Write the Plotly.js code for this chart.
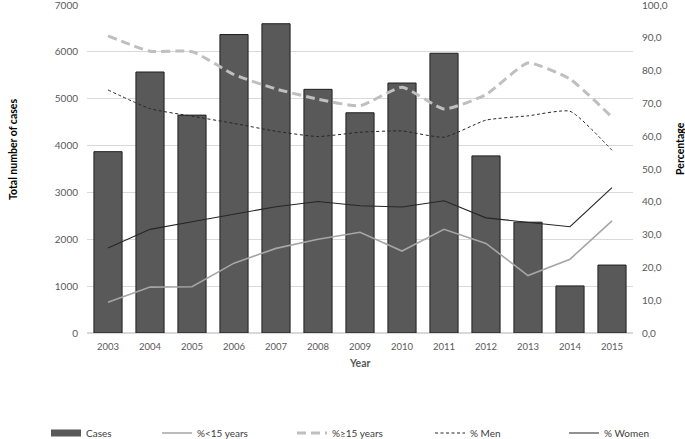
<!DOCTYPE html>
<html>
<head>
<meta charset="utf-8">
<script src="https://cdn.plot.ly/plotly-3.0.1.min.js"></script>
<style>html,body{margin:0;padding:0;background:#fff;}#chart{width:685px;height:439px;}</style>
</head>
<body>
<div id="chart"></div>
<script>
const years = ['2003','2004','2005','2006','2007','2008','2009','2010','2011','2012','2013','2014','2015'];
const cases = [3870, 5570, 4650, 6370, 6600, 5200, 4700, 5335, 5970, 3780, 2365, 1005, 1450];
const pctUnder15 = [9.4, 14.0, 14.1, 21.3, 25.8, 28.6, 30.7, 25.0, 31.6, 27.3, 17.5, 22.5, 34.2];
const pctOver15 = [90.6, 85.9, 85.8, 78.8, 74.4, 71.3, 69.3, 74.9, 68.3, 72.7, 82.3, 77.4, 65.8];
const pctMen = [74.1, 68.4, 66.1, 63.9, 61.5, 59.9, 61.2, 61.6, 59.7, 64.9, 66.2, 67.6, 55.7];
const pctWomen = [25.9, 31.6, 33.9, 36.1, 38.5, 40.1, 38.8, 38.4, 40.3, 35.1, 33.8, 32.4, 44.3];
const legendNames = ['Cases', '%<15 years', '%≥15 years', '% Men', '% Women'];

const FONT = 'Lato, "Open Sans", sans-serif';

const traces = [
  {type:'bar', x:years, y:cases, name:legendNames[0], showlegend:false,
   marker:{color:'#595959', line:{color:'#1f1f1f', width:1}}, yaxis:'y', hoverinfo:'skip'},
  {type:'scatter', mode:'lines', x:[null], y:[null], name:legendNames[0], legend:'legend',
   line:{color:'#595959', width:7}, showlegend:true},
  {type:'scatter', mode:'lines', x:years, y:pctUnder15, name:legendNames[1], yaxis:'y2', legend:'legend2',
   line:{color:'#a6a6a6', width:1.6}},
  {type:'scatter', mode:'lines', x:years, y:pctOver15, name:legendNames[2], yaxis:'y2', legend:'legend3',
   line:{color:'#bfbfbf', width:3, dash:'9px,5px', shape:'spline', smoothing:0.5}},
  {type:'scatter', mode:'lines', x:years, y:pctMen, name:legendNames[3], yaxis:'y2', legend:'legend4',
   line:{color:'#262626', width:1, dash:'3px,2.5px', shape:'spline', smoothing:0.5}},
  {type:'scatter', mode:'lines', x:years, y:pctWomen, name:legendNames[4], yaxis:'y2', legend:'legend5',
   line:{color:'#262626', width:1.1}}
];

function leg(px){
  return {orientation:'h', xref:'container', yref:'container', x:px/685, xanchor:'left',
          y:1 - 433/439, yanchor:'middle',
          bgcolor:'rgba(0,0,0,0)', font:{family:FONT, size:10, color:'#404040'},
          itemwidth:30, tracegroupgap:0};
}

const layout = {
  width:685, height:439,
  margin:{l:87, r:52, t:5, b:106, pad:0},
  paper_bgcolor:'#ffffff', plot_bgcolor:'#ffffff',
  font:{family:FONT, size:10, color:'#595959'},
  separators:',.',
  bargap:0.33,
  showlegend:true,
  xaxis:{type:'category', showgrid:false, zeroline:false, showline:false, ticks:'',
         ticklabelstandoff:6, tickfont:{family:FONT, size:9.5, color:'#595959'}, fixedrange:true},
  yaxis:{range:[0,7000], dtick:1000, tickformat:'d', showgrid:true, gridcolor:'#d9d9d9', gridwidth:1.2,
         zeroline:true, zerolinecolor:'#d9d9d9', zerolinewidth:1.2, showline:false, ticks:'',
         ticklabeloverflow:'allow',
         ticklabelstandoff:8, tickfont:{family:FONT, size:10, color:'#595959'}},
  yaxis2:{range:[0,100], dtick:10, tickformat:'.1f', overlaying:'y', side:'right', showgrid:false,
          zeroline:false, showline:false, ticks:'', ticklabelstandoff:8, ticklabeloverflow:'allow',
          tickfont:{family:FONT, size:10, color:'#595959'}},
  legend:leg(46), legend2:leg(157), legend3:leg(292), legend4:leg(430), legend5:leg(564),
  annotations:[
    {text:'<b>Total number of cases</b>', xref:'paper', yref:'paper', x:-0.1355, y:0.558,
     xanchor:'center', yanchor:'middle',
     textangle:-90, showarrow:false, font:{family:FONT, size:10.5, color:'#000000'}},
    {text:'<b>Percentage</b>', xref:'paper', yref:'paper', x:1.086, y:0.564,
     xanchor:'center', yanchor:'middle',
     textangle:-90, showarrow:false, font:{family:FONT, size:10.5, color:'#000000'}},
    {text:'<b>Year</b>', xref:'paper', yref:'paper', x:0.5, y:-0.0915,
     xanchor:'center', yanchor:'middle',
     showarrow:false, font:{family:FONT, size:10.5, color:'#595959'}}
  ]
};

Plotly.newPlot('chart', traces, layout, {displayModeBar:false, staticPlot:true});
</script>
</body>
</html>
